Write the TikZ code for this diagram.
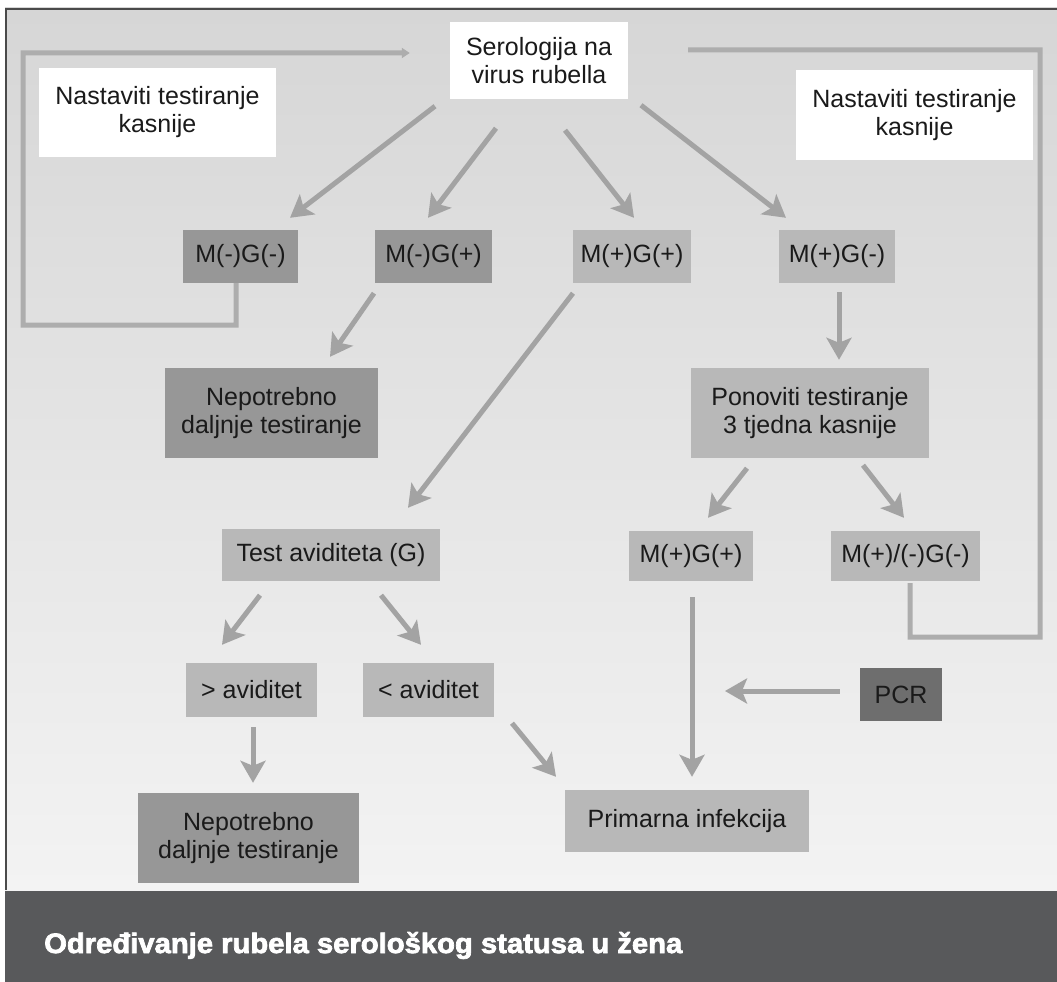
\documentclass[tikz,border=0pt]{standalone}
\usepackage{fontspec}
\setmainfont{Liberation Sans}
\newfontfamily\capfont{Liberation Sans}[FakeBold=2.5]
\usetikzlibrary{arrows.meta,calc}
\definecolor{panelA}{HTML}{D6D6D6}
\definecolor{panelB}{HTML}{F3F3F3}
\definecolor{framec}{HTML}{4A4A4A}
\definecolor{bandc}{HTML}{58595B}
\definecolor{dgray}{HTML}{979797}
\definecolor{lgray}{HTML}{B8B8B8}
\definecolor{pcrc}{HTML}{6E6E6E}
\definecolor{arrc}{HTML}{A3A3A3}
\definecolor{loopc}{HTML}{ADADAD}
\definecolor{txtc}{HTML}{1A1A1A}
\begin{document}
\begin{tikzpicture}[x=1pt,y=-1pt,
  box/.style={rectangle, inner sep=0pt, align=center, text=txtc,
    font=\fontsize{25}{28}\selectfont},
  wbox/.style={box, fill=white},
  dbox/.style={box, fill=dgray},
  lbox/.style={box, fill=lgray},
  pbox/.style={box, fill=pcrc},
  arr/.style={draw=arrc, line width=5pt, -{Stealth[length=22pt,width=25pt,inset=5pt]}},
  loopln/.style={draw=loopc, line width=5pt, line join=miter},
  looptip/.style={loopln, -{Triangle[length=8pt,width=10pt]}}
]
\useasboundingbox (0,0) rectangle (1057,982);
\fill[white] (0,0) rectangle (1057,982);
\shade[top color=panelA, bottom color=panelB] (5,8) rectangle (1057,890);
\draw[framec, line width=2pt] (6,890) -- (6,9) -- (1057,9);
\fill[bandc] (5,891) rectangle (1057,982);

% nodes
\node[wbox, minimum width=178, minimum height=77] (sero) at (539,60.5) {Serologija na\\virus rubella};
\node[wbox, minimum width=237, minimum height=89] (nl) at (157.5,112.5) {Nastaviti testiranje\\kasnije};
\node[wbox, minimum width=237, minimum height=90] (nr) at (914.5,115) {Nastaviti testiranje\\kasnije};

\node[dbox, minimum width=115, minimum height=53] (a1) at (240.5,256.5) {M(-)G(-)};
\node[dbox, minimum width=117, minimum height=53] (a2) at (433.5,256.5) {M(-)G(+)};
\node[lbox, minimum width=118, minimum height=53] (a3) at (632,256.5) {M(+)G(+)};
\node[lbox, minimum width=116, minimum height=53] (a4) at (837,256.5) {M(+)G(-)};

\node[dbox, minimum width=213, minimum height=90] (n1) at (271.5,413) {Nepotrebno\\daljnje testiranje};
\node[lbox, minimum width=238, minimum height=90] (pon) at (810,413) {Ponoviti testiranje\\3 tjedna kasnije};

\node[lbox, minimum width=218, minimum height=52] (tav) at (331,555) {Test aviditeta (G)};
\node[lbox, minimum width=124, minimum height=50] (b1) at (691,556) {M(+)G(+)};
\node[lbox, minimum width=149, minimum height=50] (b2) at (905.5,556) {M(+)/(-)G(-)};

\node[lbox, minimum width=131, minimum height=54] (av1) at (251.5,690) {> aviditet};
\node[lbox, minimum width=131, minimum height=54] (av2) at (428.5,690) {< aviditet};
\node[pbox, minimum width=82, minimum height=53] (pcr) at (901,694.5) {PCR};

\node[dbox, minimum width=221, minimum height=90] (n2) at (248.5,838) {Nepotrebno\\daljnje testiranje};
\node[lbox, minimum width=244, minimum height=62] (prim) at (687,821) {Primarna infekcija};

% loops
\draw[looptip] ($(a1.south)+(-4.5,0)$) -- ++(0,42) -- (23,325) -- (23,53) -- ($(sero.west)+(-40,-7.5)$);
\draw[loopln] ($(b2.south)+(4.5,2)$) -- ++(0,54) -- (1040,637) -- (1040,50) -- ($(sero.east)+(60,-10.5)$);

% arrows
\draw[arr] ($(sero.south)+(-104,7)$) -- ($(a1.north)+(49.5,-12)$);
\draw[arr] ($(sero.south)+(-43,29)$) -- ($(a2.north)+(-5.5,-12)$);
\draw[arr] ($(sero.south)+(26,31)$) -- ($(a3.north)+(2,-12)$);
\draw[arr] ($(sero.south)+(102,6)$) -- ($(a4.north)+(-51,-12)$);
\draw[arr] ($(a2.south)+(-59.5,10)$) -- ($(n1.north)+(58.5,-11)$);
\draw[arr] ($(a3.south)+(-59,10)$) -- ($(tav.north)+(77,-21)$);
\draw[arr] ($(a4.south)+(2,9)$) -- ($(pon.north)+(29,-8)$);
\draw[arr] ($(pon.south)+(-63,10)$) -- ($(b1.north)+(17,-13)$);
\draw[arr] ($(pon.south)+(53,7)$) -- ($(b2.north)+(-1.5,-13)$);
\draw[arr] ($(tav.south)+(-71,14)$) -- ($(av1.north)+(-29.5,-18)$);
\draw[arr] ($(tav.south)+(50,14)$) -- ($(av2.north)+(-7.5,-18)$);
\draw[arr] ($(av1.south)+(1.5,10)$) -- ($(n2.north)+(4.5,-10)$);
\draw[arr] ($(av2.south)+(83.5,6)$) -- ($(prim.north)+(-131,-13)$);
\draw[arr] ($(b1.south)+(1,16)$) -- ($(prim.north)+(5,-13)$);
\coordinate (pcrend) at (725,691);
\draw[arr] ($(pcr.west)+(-20,-3.5)$) -- (pcrend);

% caption
\node[anchor=base west, text=white, inner sep=0pt] (cap) at (44,953)
  {\resizebox{638pt}{21pt}{\capfont\bfseries Određivanje rubela serološkog statusa u žena}};
\end{tikzpicture}
\end{document}
